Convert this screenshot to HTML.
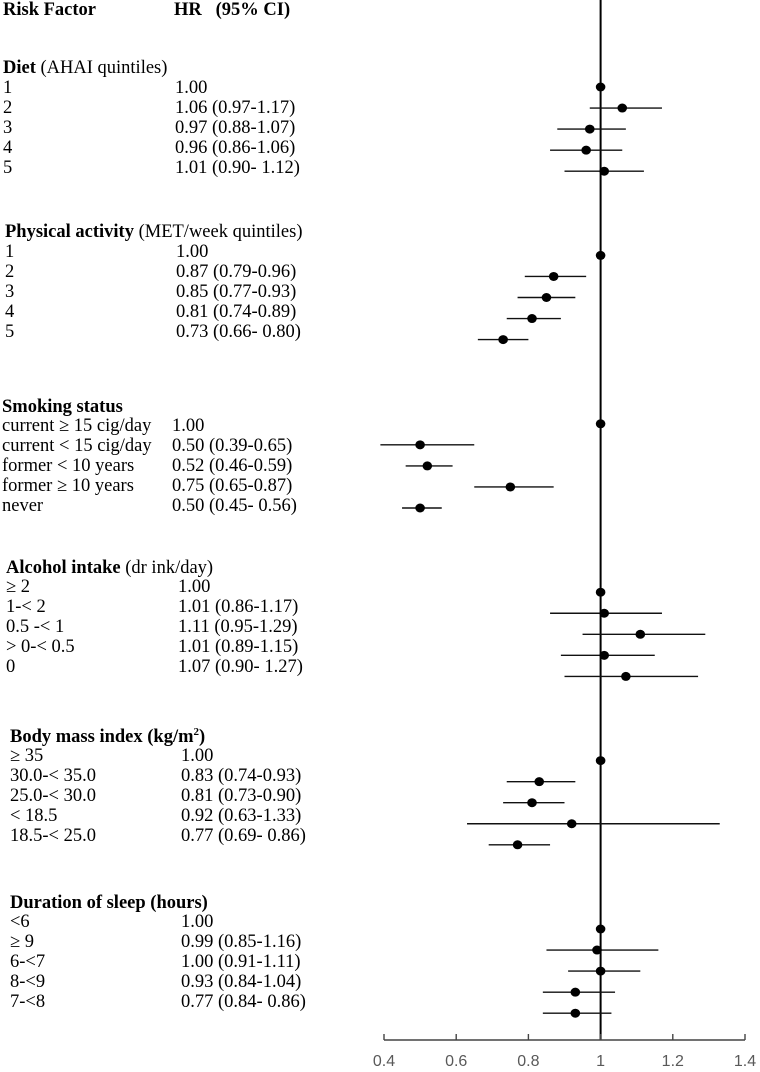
<!DOCTYPE html>
<html><head><meta charset="utf-8"><style>
html,body{margin:0;padding:0;background:#fff;}
#wrap{position:relative;width:760px;height:1072px;overflow:hidden;font-family:"Liberation Serif",serif;font-size:18.5px;color:#000;}
.t{position:absolute;white-space:nowrap;line-height:20px;font-family:"Liberation Serif",serif;}
b{font-weight:bold;font-family:"Liberation Serif",serif;}
svg{position:absolute;left:0;top:0;}
</style></head><body>
<div id="wrap">
<div class="t" style="left:3px;top:0px"><b>Risk Factor</b></div>
<div class="t" style="left:174px;top:0px"><b>HR&nbsp;&nbsp;&nbsp;(95% CI)</b></div>
<div id="labels"></div>
<svg id="plot" width="760" height="1072"></svg>
</div>
<script>
const sections = ["Diet","Physical activity","Smoking status","Alcohol intake","Body mass index","Duration of sleep"];
const sectionHeaders = [
 '<b>Diet</b> (AHAI quintiles)',
 '<b>Physical activity</b> (MET/week quintiles)',
 '<b>Smoking status</b>',
 '<b>Alcohol intake</b> (dr ink/day)',
 '<b>Body mass index (kg/m<sup style="font-size:11px;line-height:0">2</sup>)</b>',
 '<b>Duration of sleep (hours)</b>'];
const categories = [
 ["1","2","3","4","5"],
 ["1","2","3","4","5"],
 ["current \u2265 15 cig/day","current < 15 cig/day","former < 10 years","former \u2265 10 years","never"],
 ["\u2265 2","1-< 2","0.5 -< 1","> 0-< 0.5","0"],
 ["\u2265 35","30.0-< 35.0","25.0-< 30.0","< 18.5","18.5-< 25.0"],
 ["<6","\u2265 9","6-<7","8-<9","7-<8"]];
const hrText = [
 ["1.00","1.06 (0.97-1.17)","0.97 (0.88-1.07)","0.96 (0.86-1.06)","1.01 (0.90- 1.12)"],
 ["1.00","0.87 (0.79-0.96)","0.85 (0.77-0.93)","0.81 (0.74-0.89)","0.73 (0.66- 0.80)"],
 ["1.00","0.50 (0.39-0.65)","0.52 (0.46-0.59)","0.75 (0.65-0.87)","0.50 (0.45- 0.56)"],
 ["1.00","1.01 (0.86-1.17)","1.11 (0.95-1.29)","1.01 (0.89-1.15)","1.07 (0.90- 1.27)"],
 ["1.00","0.83 (0.74-0.93)","0.81 (0.73-0.90)","0.92 (0.63-1.33)","0.77 (0.69- 0.86)"],
 ["1.00","0.99 (0.85-1.16)","1.00 (0.91-1.11)","0.93 (0.84-1.04)","0.77 (0.84- 0.86)"]];
const hr = [
 [1.00,1.06,0.97,0.96,1.01],
 [1.00,0.87,0.85,0.81,0.73],
 [1.00,0.50,0.52,0.75,0.50],
 [1.00,1.01,1.11,1.01,1.07],
 [1.00,0.83,0.81,0.92,0.77],
 [1.00,0.99,1.00,0.93,0.93]];
const lo = [
 [null,0.97,0.88,0.86,0.90],
 [null,0.79,0.77,0.74,0.66],
 [null,0.39,0.46,0.65,0.45],
 [null,0.86,0.95,0.89,0.90],
 [null,0.74,0.73,0.63,0.69],
 [null,0.85,0.91,0.84,0.84]];
const hi = [
 [null,1.17,1.07,1.06,1.12],
 [null,0.96,0.93,0.89,0.80],
 [null,0.65,0.59,0.87,0.56],
 [null,1.17,1.29,1.15,1.27],
 [null,0.93,0.90,1.33,0.86],
 [null,1.16,1.11,1.04,1.03]];
const xTicks = [0.4,0.6,0.8,1,1.2,1.4];
const xTickLabels = ["0.4","0.6","0.8","1","1.2","1.4"];

const xMin=0.4,xMax=1.4,x0=384,x1=745;
const xs=v=>x0+(v-xMin)/(xMax-xMin)*(x1-x0);
const ys=i=>87+i*21.05;
const headerTop=[58,222,397,558,727,893];
const labelX=[3,5,2,6,10,10];
const hrX=[175,176,172,178,181,181];

const L=document.getElementById('labels');
const S=document.getElementById('plot');
const NS='http://www.w3.org/2000/svg';
function mk(tag,attrs){const e=document.createElementNS(NS,tag);for(const k in attrs)e.setAttribute(k,attrs[k]);S.appendChild(e);return e;}

sections.forEach((s,si)=>{
  const h=document.createElement('div');h.className='t';
  h.style.left=labelX[si]+'px';h.style.top=headerTop[si]+'px';h.innerHTML=sectionHeaders[si];
  
  
  L.appendChild(h);
  categories[si].forEach((c,ci)=>{
    const top=headerTop[si]+20*(ci+1)-(si>=2?1:0);
    const a=document.createElement('div');a.className='t';a.style.left=labelX[si]+'px';a.style.top=top+'px';a.textContent=c;
    
    
    L.appendChild(a);
    const b=document.createElement('div');b.className='t';b.style.left=hrX[si]+'px';b.style.top=top+'px';b.textContent=hrText[si][ci];
    
    
    L.appendChild(b);
  });
});

const ref=mk('line',{x1:xs(1),x2:xs(1),y1:0,y2:1040,stroke:'#000','stroke-width':2});



sections.forEach((s,si)=>{
  hr[si].forEach((v,ci)=>{
    const y=ys(si*8+ci);
    if(lo[si][ci]!==null){
      const ln=mk('line',{x1:xs(lo[si][ci]),x2:xs(hi[si][ci]),y1:y,y2:y,stroke:'#111','stroke-width':1.4});
      
      
    }
    const d=mk('ellipse',{cx:xs(v),cy:y,rx:4.8,ry:4.5,fill:'#000'});
    
    
  });
});

const ax=mk('line',{x1:x0,x2:x1,y1:1040,y2:1040,stroke:'#444','stroke-width':1.4});


xTicks.forEach((t,i)=>{
  const tk=mk('line',{x1:xs(t),x2:xs(t),y1:1034,y2:1040,stroke:'#444','stroke-width':1.4});
  
  
  const tx=mk('text',{x:xs(t),y:1066,'text-anchor':'middle','font-family':'Liberation Sans, sans-serif','font-size':16,fill:'#595959'});
  tx.textContent=xTickLabels[i];
  
  
});
</script>
</body></html>
